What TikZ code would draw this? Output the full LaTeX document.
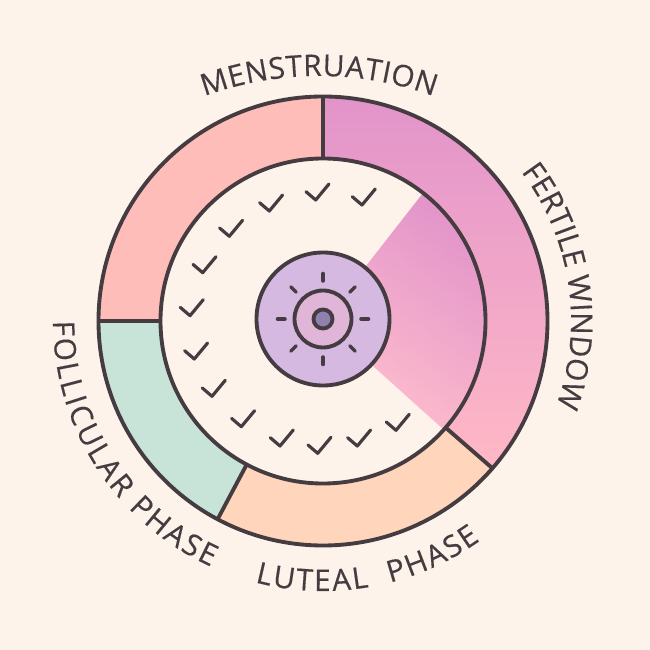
\documentclass[tikz,border=0pt]{standalone}
\usepackage{fontspec}
\usepackage{xcolor}
\usepackage{tikz}
\usetikzlibrary{decorations.text}
\newfontfamily\lblfont{Open Sans}[FakeBold=0.35]
\definecolor{cbg}{HTML}{FDF3EA}
\definecolor{cink}{HTML}{453C42}
\definecolor{cmens}{HTML}{FFBDB9}
\definecolor{cfoll}{HTML}{C8E3D8}
\definecolor{clut}{HTML}{FFD5BB}
\definecolor{corchid}{HTML}{E294CA}
\definecolor{cpink}{HTML}{FFB8C6}
\definecolor{crose}{HTML}{F9ACC8}
\definecolor{cblush}{HTML}{FFBECC}
\definecolor{chub}{HTML}{D5B9E1}
\definecolor{ceye}{HTML}{E0B5D8}
\definecolor{cdot}{HTML}{8F80B0}
% annular sector: start angle, end angle
\newcommand{\ringsector}[2]{(#1:4.49) arc[start angle=#1, end angle=#2, radius=4.49] -- (#2:3.25) arc[start angle=#2, end angle=#1, radius=3.25] -- cycle}
\begin{document}
\begin{tikzpicture}[
      ring/.style={circle, draw=cink, line width=2.2pt, inner sep=0pt, outer sep=0pt},
      divider/.style={draw=cink, line width=2.2pt},
      ticks/.style={draw=cink, line width=2pt, line cap=round},
      check/.style={draw=cink, line width=1.8pt, line cap=round, line join=round},
      lbl/.style={decorate, decoration={text along path, text align={fit to path},
                  text={|\lblfont\fontsize{17pt}{17pt}\selectfont\color{cink}|#1}}}
    ]
    \useasboundingbox[fill=cbg] (-6.46,-6.58) rectangle (6.54,6.42);
    % ring segments
    \fill[cmens] \ringsector{90}{180};
    \fill[cfoll] \ringsector{180}{242};
    \fill[clut] \ringsector{242}{319};
    \shade[top color=corchid, middle color=corchid!95!cpink, bottom color=cpink] \ringsector{90}{-41};
    \shade[top color=corchid, middle color=crose, bottom color=cblush, shading angle=-35] (0,0) -- (52:3.25) arc[start angle=52, end angle=-42, radius=3.25] -- cycle;
    % circles
    \node[ring, minimum size=8.98cm] (outer) at (0,0) {};
    \node[ring, minimum size=6.5cm] (inner) at (0,0) {};
    \draw[divider] (inner.90) -- (outer.90);
    \draw[divider] (inner.180) -- (outer.180);
    \draw[divider] (inner.242) -- (outer.242);
    \draw[divider] (inner.319) -- (outer.319);
    % hub
    \node[ring, fill=chub, minimum size=2.66cm] (hub) at (0,0.04) {};
    \node[ring, fill=ceye, minimum size=1.14cm] (eye) at (hub) {};
    \node[ring, fill=cdot, minimum size=0.38cm] (dot) at (hub) {};
    \foreach \a in {0,45,...,315}
      \draw[ticks] ([shift={(\a:0.76)}]hub.center) -- ([shift={(\a:0.91)}]hub.center);
    % checks
    \foreach \x/\y in {0.78/2.32, -0.146/2.42, -1.074/2.20, -1.874/1.694, -2.406/0.966, -2.66/0.106, -2.574/-0.76,
        -2.22/-1.506, -1.634/-2.114, -0.86/-2.5, -0.106/-2.646, 0.686/-2.5, 1.46/-2.186}
      \draw[check, shift={(\x,\y)}] (-0.194,0.166) -- (0,0) -- (0.266,0.32);
    % labels
    \path[lbl={MENSTRUATION}] ([shift={(110:6.7)}]-0.08,-1.8) arc[start angle=110, end angle=70, radius=6.7];
    \path[lbl={FERTILE WINDOW}] (37:4.96) arc[start angle=37, end angle=-19, radius=4.96];
    \path[lbl={FOLLICULAR PHASE}] (180:5.4) arc[start angle=180, end angle=245.5, radius=5.4];
    \path[lbl={LUTEAL{\ }{\ }PHASE}] (255.4:5.4) arc[start angle=255.4, end angle=305.6, radius=5.4];
  \end{tikzpicture}
\end{document}
